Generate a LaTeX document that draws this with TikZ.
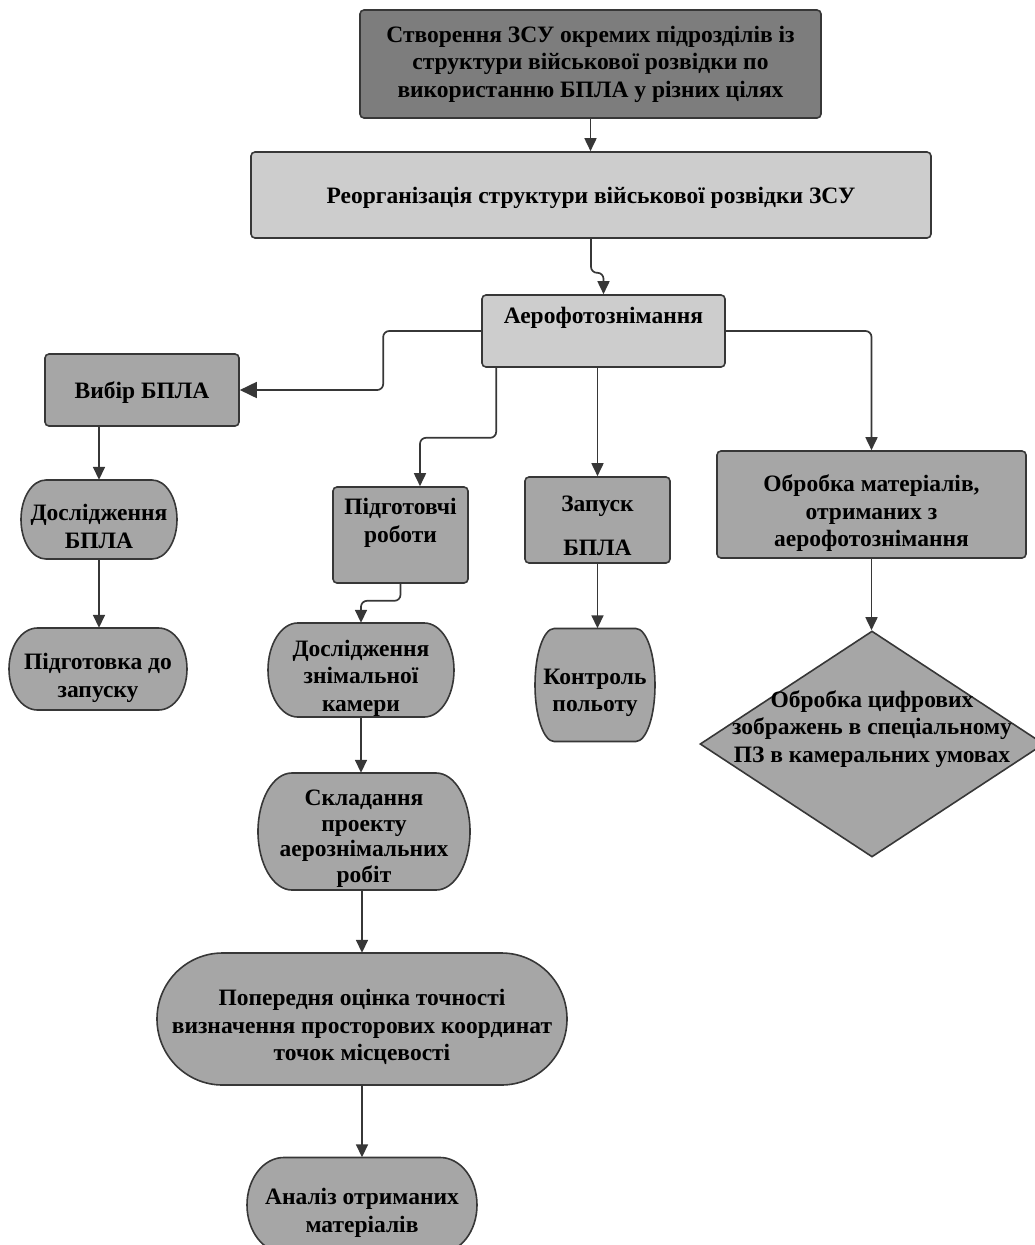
\documentclass[tikz,border=0pt]{standalone}
\usepackage{fontspec}
\setmainfont{Liberation Serif}
\usetikzlibrary{arrows.meta,positioning,shapes.geometric}
\definecolor{darkbox}{RGB}{125,125,125}
\definecolor{midbox}{RGB}{166,166,166}
\definecolor{lightbox}{RGB}{205,205,205}
\definecolor{edgegray}{RGB}{55,55,55}
\tikzset{
    %Define standard arrow tip
    >={Triangle[length=13pt,width=12pt]},
    %Define styles for boxes
    box/.style={
           rectangle,
           rounded corners=4pt,
           draw=edgegray, line width=1.6pt,
           align=center,
           fill=midbox},
    topbox/.style={box, fill=darkbox},
    lightrect/.style={box, fill=lightbox},
    termline/.style={
           draw=edgegray, line width=1.6pt,
           fill=midbox},
    termtext/.style={
           rectangle,
           align=center,
           inner sep=0pt},
    decision/.style={
           diamond,
           draw=edgegray, line width=1.6pt,
           fill=midbox,
           inner sep=0pt},
    txt/.style={align=center},
    % Define arrow style
    pil/.style={
           ->,
           draw=edgegray,
           line width=1.7pt,
           rounded corners=6pt}
}
% outline of a terminator: centre x, centre y, width, height
\newcommand{\termshape}[4]{%
  \draw[termline] ({#1-#3/2+0.16*#3},{#2+#4/2}) -- ({#1+#3/2-0.16*#3},{#2+#4/2})
    arc[start angle=90,end angle=-90,x radius={0.16*#3},y radius={#4/2}]
    -- ({#1-#3/2+0.16*#3},{#2-#4/2})
    arc[start angle=270,end angle=90,x radius={0.16*#3},y radius={#4/2}] -- cycle;}
\begin{document}
\begin{tikzpicture}[x=1pt,y=1pt,font=\fontsize{23.5}{27.5}\selectfont\bfseries]
\useasboundingbox (0,0) rectangle (1035,-1245);
\node[topbox, minimum width=461pt, minimum height=108pt](plan) at (590.5,-64){Створення ЗСУ окремих підрозділів із\\структури військової розвідки по\\використанню БПЛА у різних цілях};
\node[lightrect, minimum width=680pt, minimum height=86pt, label={[txt,yshift=-3pt]center:Реорганізація структури військової розвідки ЗСУ}](reorg) at (591,-195){};
\node[lightrect, minimum width=243pt, minimum height=72pt, label={[txt,yshift=13pt]center:Аерофотознімання}](aero) at (603.5,-331){};
\node[box, minimum width=194pt, minimum height=72pt, label={[txt,yshift=-3pt]center:Вибір БПЛА}](vybir) at (142,-390){};
\node[box, minimum width=135pt, minimum height=96pt, label={[txt,yshift=12pt]center:{Підготовчі\\роботи}}](robot) at (400.5,-535){};
\node[box, minimum width=145pt, minimum height=86pt, label={[txt,yshift=-6pt]center:{Запуск\\[17pt]БПЛА}}](zapusk) at (597.5,-520){};
\node[box, minimum width=309pt, minimum height=107pt, label={[txt,yshift=-9pt]center:{Обробка матеріалів,\\отриманих з\\аерофотознімання}}](obrob) at (871.5,-504.5){};
\node[decision, minimum width=344pt, minimum height=226pt, label={[txt,yshift=15pt]center:{Обробка цифрових\\зображень в спеціальному\\ПЗ в камеральних умовах}}](diam) at (872,-744){};
% terminators
\termshape{99}{-519.5}{156}{79}
\termshape{98}{-669}{178}{82}
\termshape{361}{-670}{186}{94}
\termshape{595}{-685}{120}{113}
\termshape{364}{-831.5}{212}{117}
\termshape{362}{-1019}{410}{132}
\termshape{362}{-1205}{230}{95}
\node[termtext, minimum width=156pt, minimum height=79pt, label={[txt,yshift=-7pt]center:{Дослідження\\БПЛА}}](dbpla) at (99,-519.5){};
\node[termtext, minimum width=178pt, minimum height=82pt, label={[txt,yshift=-9pt]center:{Підготовка до\\запуску}}](pidgot) at (98,-669){};
\node[termtext, minimum width=186pt, minimum height=94pt, label={[txt,yshift=-8pt]center:{Дослідження\\знімальної\\камери}}](dkam) at (361,-670){};
\node[termtext, minimum width=120pt, minimum height=113pt, label={[txt,yshift=-8pt]center:{Контроль\\польоту}}](kontrol) at (595,-685){};
\node[termtext, minimum width=212pt, minimum height=117pt, label={[txt,yshift=-7pt,font=\fontsize{23.5}{25.5}\selectfont\bfseries]center:{Складання\\проекту\\аерознімальних\\робіт}}](sklad) at (364,-831.5){};
\node[termtext, minimum width=410pt, minimum height=132pt, label={[txt,yshift=-8pt]center:{Попередня оцінка точності\\визначення просторових координат\\точок місцевості}}](poper) at (362,-1019){};
\node[termtext, minimum width=230pt, minimum height=95pt, label={[txt,yshift=-8pt]center:{Аналіз отриманих\\матеріалів}}](analiz) at (362,-1205){};
\draw[pil] (plan.south) -- (plan.south |- reorg.north);
\draw[pil] (reorg.south) -- ++(0,-34) -| (aero.north);
\draw[pil,-{Triangle[length=17pt,width=16pt]}] (aero.west) -- ++(-98,0) |- (vybir.east);
\draw[pil] (aero.east) -| (obrob.north);
\draw[pil] ([xshift=15pt]aero.south west) -- ++(0,-70) -| ([xshift=19.5pt]robot.north);
\draw[pil] (aero.south -| zapusk.north) -- (zapusk.north);
\draw[pil] (vybir.south -| dbpla.north) -- (dbpla.north);
\draw[pil] (dbpla.south) -- (dbpla.south |- pidgot.north);
\draw[pil] (robot.south) -- ++(0,-17) -| (dkam.north);
\draw[pil] (zapusk.south) -- (zapusk.south |- kontrol.north);
\draw[pil] (obrob.south) -- (obrob.south |- diam.north);
\draw[pil] (dkam.south) -- (dkam.south |- sklad.north);
\draw[pil] (sklad.south -| poper.north) -- (poper.north);
\draw[pil] (poper.south) -- (poper.south |- analiz.north);
\end{tikzpicture}
\end{document}
